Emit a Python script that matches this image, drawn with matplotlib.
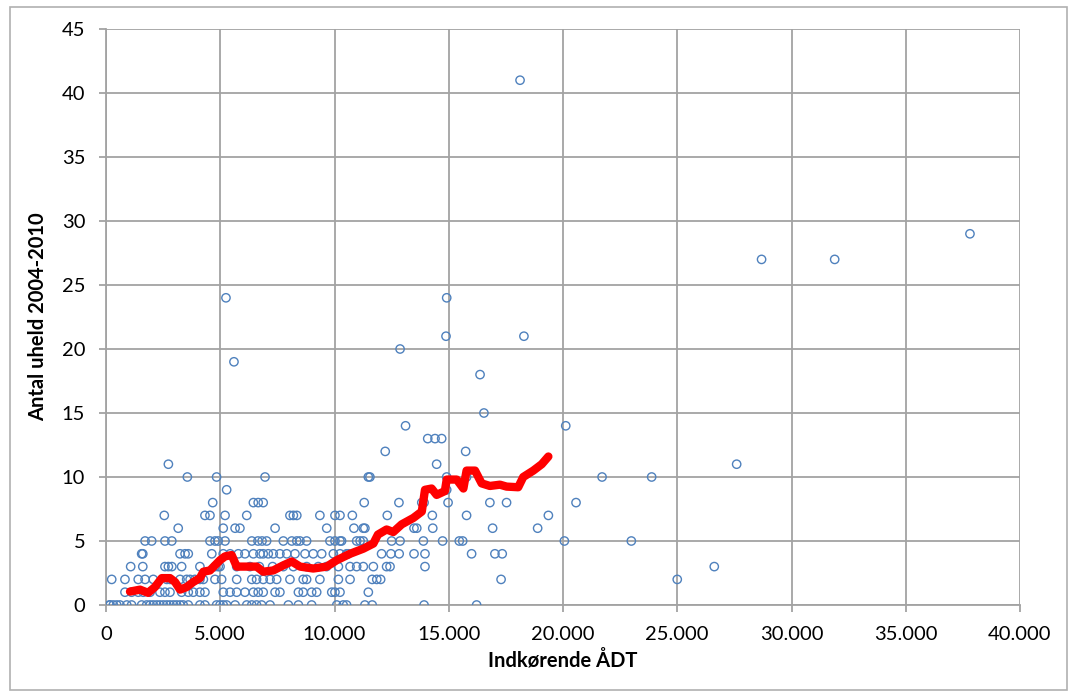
import matplotlib
matplotlib.use("Agg")
from matplotlib import pyplot as plt
from matplotlib.patches import Rectangle
from matplotlib.ticker import FuncFormatter, MultipleLocator
import numpy as np

# uheld pr. kryds, grupperet efter antal uheld (y) -> indkørende ÅDT (x)
rows = {
	0: [150, 180, 320, 470, 610, 910, 1120, 1560, 1780, 1930, 2070, 2220, 2360, 2510, 2660, 2800,
		2950, 3090, 3240, 3380, 3600, 4110, 4330, 4840, 5130, 4990, 5280, 5650, 6160, 6380, 6590,
		6810, 7180, 7980, 8420, 9000, 10100, 10380, 10530, 11330, 11650, 13920, 16220],
	1: [830, 1120, 1410, 1630, 1930, 2360, 2580, 2800, 3310, 3600, 3820, 4110, 4330, 5130, 5430,
		5720, 6080, 6450, 6660, 6880, 7400, 7610, 8420, 8630, 9000, 9220, 9880, 10020, 10240, 11480],
	2: [250, 830, 1410, 1710, 2070, 2660, 2800, 3240, 3530, 3680, 3890, 4110, 4260, 4770, 5060,
		5720, 6380, 6590, 6880, 7180, 7470, 8050, 8630, 8780, 9360, 10170, 10680, 11650, 11850,
		12020, 17290, 25000],
	3: [1080, 1610, 2580, 2730, 2880, 3310, 4110, 4770, 4910, 4990, 5720, 6300, 6710, 7290, 7760,
		8200, 8780, 9290, 9650, 10170, 10680, 10970, 11260, 11700, 12280, 12430, 13960, 26620],
	4: [1560, 1610, 3240, 3460, 3600, 4630, 5130, 5430, 5790, 6080, 6450, 6740, 6880, 7100, 7320,
		7610, 7910, 8270, 8710, 9070, 9440, 9950, 10240, 10530, 10600, 12060, 12470, 12830, 13480,
		13960, 16000, 17020, 17340],
	5: [1710, 2000, 2580, 2880, 4550, 4770, 4910, 5210, 6380, 6650, 6830, 7030, 7760, 8130, 8350,
		8490, 8780, 9800, 10020, 10240, 10310, 10970, 11120, 11260, 12500, 12870, 13890, 14730,
		15460, 15610, 20060, 22990],
	6: [3160, 5130, 5650, 5860, 7400, 9660, 10850, 11260, 11330, 13480, 13600, 14300, 16920, 18890],
	7: [2550, 4330, 4550, 5210, 6160, 8050, 8200, 8350, 9360, 10020, 10240, 10780, 12310, 14280,
		15780, 19360],
	8: [4670, 6450, 6660, 6880, 11300, 12820, 13820, 13920, 14970, 16800, 17530, 20570],
	9: [5280, 14910],
	10: [3560, 4840, 6960, 11480, 11550, 14910, 15780, 21710, 23880],
	11: [2730, 14470, 27600],
	12: [12220, 15740],
	13: [14080, 14400, 14690],
	14: [13110, 20120],
	15: [16540],
	18: [16370],
	19: [5600],
	20: [12870],
	21: [14880, 18290],
	24: [5250, 14910],
	27: [28690, 31890],
	29: [37810],
	41: [18120],
}

# glidende gennemsnit
avg_x = [1050, 1490, 1840, 2140, 2440, 2800, 3020, 3240, 3530, 3820, 4110, 4260, 4550, 4770,
	4990, 5210, 5500, 5720, 6160, 6590, 6880, 7320, 7760, 8130, 8490, 9070, 9660, 10100, 10680,
	11260, 11700, 11900, 12280, 12570, 12940, 13450, 13820, 13960, 14250, 14470, 14830, 14910,
	15350, 15640, 15780, 16150, 16440, 16800, 17240, 17530, 18040, 18260, 18700, 19070, 19360]
avg_y = [1.05, 1.2, 0.95, 1.4, 2.1, 2.1, 1.8, 1.2, 1.4, 1.8, 2.1, 2.6, 2.7, 3.1,
	3.5, 3.8, 3.9, 3.0, 3.0, 3.0, 2.6, 2.7, 3.1, 3.4, 3.0, 2.85, 3.0, 3.5, 4.0,
	4.4, 4.8, 5.5, 5.9, 5.7, 6.3, 6.8, 7.3, 9.0, 9.1, 8.6, 8.9, 9.8,
	9.8, 9.1, 10.5, 10.5, 9.5, 9.3, 9.4, 9.25, 9.2, 10.0, 10.5, 11.0, 11.6]


def thousands(v, pos):
	return f"{int(v):,}".replace(",", ".")


def main():
	plt.rcParams["font.family"] = ["Lato", "DejaVu Sans"]
	grid_c = "#a3a3a3"

	fig = plt.figure(figsize=(10.69, 6.93), dpi=100)
	fig.patches.append(Rectangle((10 / 1069, 3 / 693), 1057 / 1069, 683 / 693,
		transform=fig.transFigure, fill=False, edgecolor="#b0b0b0", linewidth=1.2))

	ax = fig.add_axes([106 / 1069, 88 / 693, 914 / 1069, 576 / 693])

	xs = [x for y, xl in rows.items() for x in xl]
	ys = [y for y, xl in rows.items() for x in xl]
	ax.scatter(xs, ys, s=36, facecolors="none", edgecolors="#4f81bd", linewidths=1.0, zorder=3)
	ax.plot(avg_x, avg_y, color="#ff0000", linewidth=6, solid_capstyle="round",
		solid_joinstyle="round", zorder=4)

	ax.set_xlim(0, 40000)
	ax.set_ylim(0, 45)
	ax.xaxis.set_major_locator(MultipleLocator(5000))
	ax.yaxis.set_major_locator(MultipleLocator(5))
	ax.xaxis.set_major_formatter(FuncFormatter(thousands))

	ax.grid(True, color=grid_c, linewidth=1.3)
	ax.set_axisbelow(True)
	for side in ["top", "right"]:
		ax.spines[side].set_visible(False)
	for side in ["left", "bottom"]:
		ax.spines[side].set_color(grid_c)
		ax.spines[side].set_linewidth(1.3)
	ax.tick_params(axis="both", color=grid_c, length=5, width=1.3, labelsize=14.5)
	ax.tick_params(axis="y", pad=10)
	ax.tick_params(axis="x", pad=10)

	ax.set_xlabel("Indkørende ÅDT", fontsize=14.5, fontweight="bold", labelpad=5)
	ax.set_ylabel("Antal uheld 2004-2010", fontsize=14.5, fontweight="bold", labelpad=10)

	fig.savefig("out.png", dpi=100)


if __name__ == "__main__":
	main()
